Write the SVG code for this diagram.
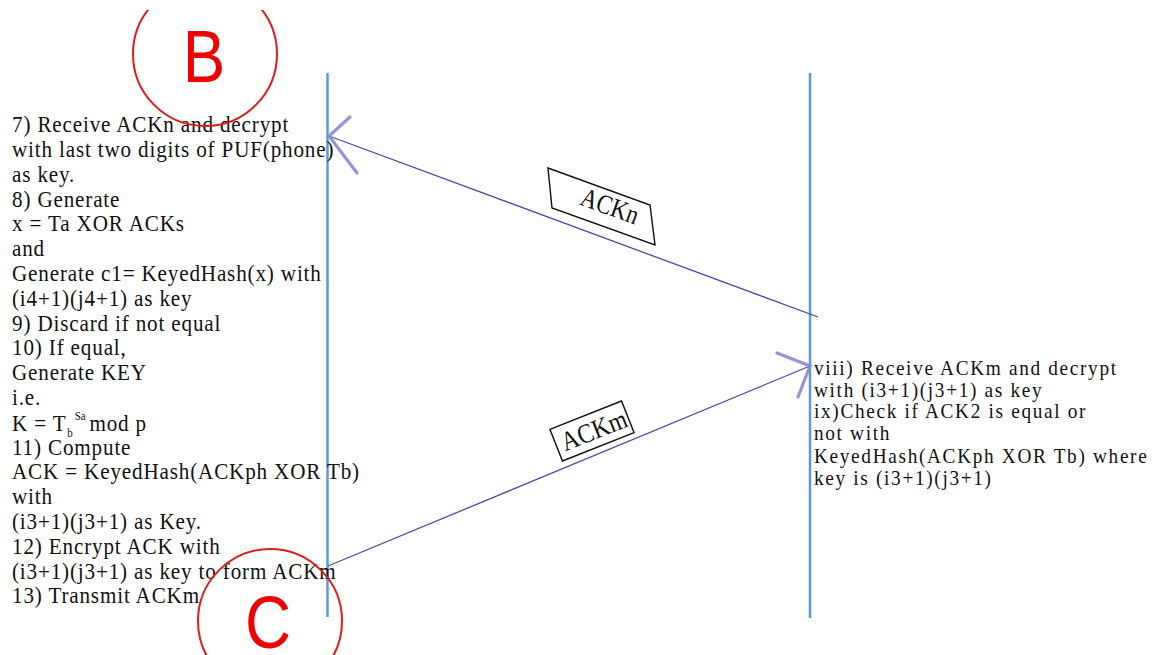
<svg xmlns="http://www.w3.org/2000/svg" width="1160" height="655" viewBox="0 0 1160 655">
  <style>
    .lifeline { stroke: #5b9bd5; stroke-width: 2.5; fill: none; }
    .msg { stroke: #4a4aa6; stroke-width: 1.3; fill: none; }
    .head { stroke: #8a8ad0; stroke-width: 3.2; stroke-linecap: round; fill: none; opacity: 0.9; }
    .step { font-family: "Liberation Serif", "Times New Roman", serif; font-size: 23px; letter-spacing: 0.9px; fill: #111; }
    .stepR { font-family: "Liberation Serif", "Times New Roman", serif; font-size: 21px; letter-spacing: 1.8px; fill: #111; }
    .small { font-size: 12px; letter-spacing: 0; }
    .lbl { font-family: "Liberation Serif", "Times New Roman", serif; font-size: 27px; fill: #111; text-anchor: middle; }
    .lblbox { fill: #ffffff; stroke: #111; stroke-width: 1.4; }
    .mark { fill: none; stroke: #e01b1b; stroke-width: 2; }
    .markText { font-family: "Liberation Sans", Arial, sans-serif; font-size: 75px; fill: #f00000; text-anchor: middle; }
  </style>
  <defs>
    <clipPath id="clipTop">
      <rect x="0" y="10" width="1160" height="645"/>
    </clipPath>
  </defs>
  <rect width="1160" height="655" fill="#ffffff"/>

  <!-- lifelines -->
  <g id="lifeline-left">
    <line class="lifeline" x1="327.5" y1="73" x2="327.5" y2="617"/>
  </g>
  <g id="lifeline-right">
    <line class="lifeline" x1="810" y1="73" x2="810" y2="618"/>
  </g>

  <!-- messages -->
  <g id="connectors">
    <line class="msg" x1="818" y1="317" x2="329" y2="136"/>
    <polyline class="head" points="350,117 329,136 357,173"/>
    <line class="msg" x1="328" y1="566" x2="810" y2="366"/>
    <polyline class="head" points="777,353 810,366 798,397"/>
  </g>

  <!-- message labels -->
  <g id="label-ackn">
    <polygon class="lblbox" points="548,168 650,205 655,245 552,208"/>
    <text class="lbl" transform="translate(610,206) rotate(20) scale(0.85,1)" x="0" y="9">ACKn</text>
  </g>
  <g id="label-ackm">
    <g transform="translate(592,431) rotate(-21.6)">
      <rect class="lblbox" x="-38.5" y="-17" width="77" height="34"/>
      <text class="lbl" transform="translate(2,9) scale(0.88,1)" x="0" y="0">ACKm</text>
    </g>
  </g>

  <!-- left-hand steps -->
  <g id="steps-left" class="step" transform="translate(12,0) scale(0.92,1)">
    <text x="0" y="132">7) Receive ACKn and decrypt</text>
    <text x="0" y="157">with last two digits of PUF(phone)</text>
    <text x="0" y="182">as key.</text>
    <text x="0" y="207">8) Generate</text>
    <text x="0" y="231">x = Ta XOR ACKs</text>
    <text x="0" y="256">and</text>
    <text x="0" y="281">Generate c1= KeyedHash(x) with</text>
    <text x="0" y="306">(i4+1)(j4+1) as key</text>
    <text x="0" y="331">9) Discard if not equal</text>
    <text x="0" y="355">10) If equal,</text>
    <text x="0" y="380">Generate KEY</text>
    <text x="0" y="405">i.e.</text>
    <text x="0" y="431">K = T<tspan class="small" dx="1" dy="6">b</tspan><tspan class="small" dx="2" dy="-17">Sa</tspan><tspan dx="4" dy="11">mod p</tspan></text>
    <text x="0" y="455">11) Compute</text>
    <text x="0" y="479">ACK = KeyedHash(ACKph XOR Tb)</text>
    <text x="0" y="504">with</text>
    <text x="0" y="529">(i3+1)(j3+1) as Key.</text>
    <text x="0" y="554">12) Encrypt ACK with</text>
    <text x="0" y="579">(i3+1)(j3+1) as key to form ACKm</text>
    <text x="0" y="603">13) Transmit ACKm</text>
  </g>

  <!-- right-hand steps -->
  <g id="steps-right" class="stepR" transform="translate(814,0) scale(0.92,1)">
    <text x="0" y="375">viii) Receive ACKm and decrypt</text>
    <text x="0" y="397">with (i3+1)(j3+1) as key</text>
    <text x="0" y="418">ix)Check if ACK2 is equal or</text>
    <text x="0" y="440">not with</text>
    <text x="0" y="463">KeyedHash(ACKph XOR Tb) where</text>
    <text x="0" y="485">key is (i3+1)(j3+1)</text>
  </g>

  <!-- phase markers -->
  <g id="marker-b" clip-path="url(#clipTop)">
    <circle class="mark" cx="205" cy="54" r="72"/>
    <text class="markText" transform="translate(204,82) scale(0.85,1)" x="0" y="0">B</text>
  </g>
  <g id="marker-c">
    <circle class="mark" cx="270" cy="621" r="72"/>
    <text class="markText" transform="translate(268,648) scale(0.85,1)" x="0" y="0">C</text>
  </g>
</svg>
